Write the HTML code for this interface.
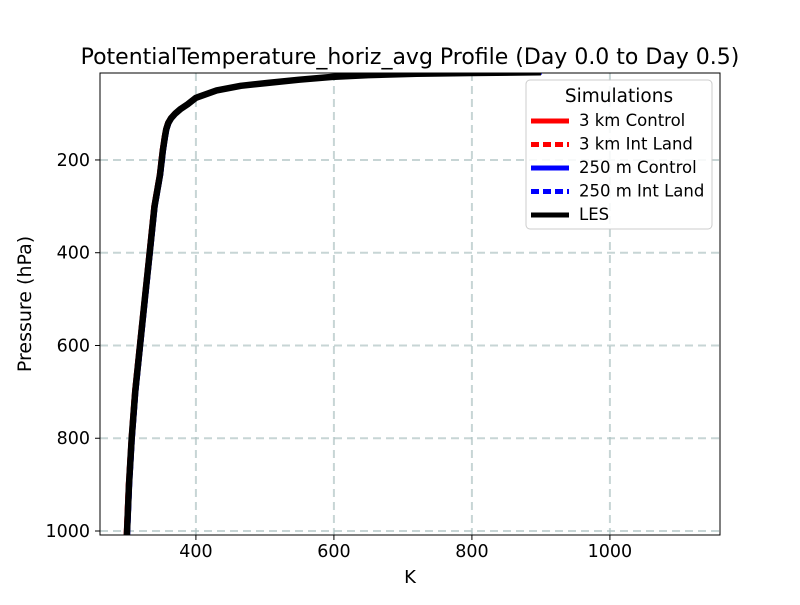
<!DOCTYPE html>
<html><head><meta charset="utf-8"><style>
body{margin:0;background:#fff;font-family:"Liberation Sans","DejaVu Sans",sans-serif}
svg text{font-family:"DejaVu Sans","Liberation Sans",sans-serif}
</style></head><body>
<svg id="c" width="800" height="600" viewBox="0 0 800 600" xmlns="http://www.w3.org/2000/svg">
<rect width="800" height="600" fill="#fff"/>
<defs><clipPath id="clip"><rect x="100" y="73" width="620" height="462"/></clipPath></defs>
<g id="grid"></g>
<g id="series" clip-path="url(#clip)"></g>
<rect x="100" y="73" width="620" height="462" fill="none" stroke="#000" stroke-width="1"/>
<g id="ticks"></g>
<text x="410" y="64" text-anchor="middle" font-size="22">PotentialTemperature_horiz_avg Profile (Day 0.0 to Day 0.5)</text>
<text x="410" y="583" text-anchor="middle" font-size="18">K</text>
<text x="31" y="304" text-anchor="middle" font-size="19" transform="rotate(-90 31 304)">Pressure (hPa)</text>
<g id="legend">
<rect x="526" y="80" width="186" height="149" rx="4" fill="#fff" fill-opacity="0.85" stroke="#ccc"/>
<text x="619" y="102" text-anchor="middle" font-size="18.5">Simulations</text>
</g>
</svg>
<script>
const pressures=[1008,900,800,700,600,500,400,300,232,180,150,134,120,110,100,90,80,66,50,40,34,27,21,17,14,12.5,11];
const lesK=[300,303,307,312,319,326,333,340,348,352,355,357,360,364,370,378,388,400,430,465,503,550,598,650,720,800,900];
const ctl3kmK=lesK.map(v=>v-1);
const land3kmK=lesK.map(v=>v-1);
const ctl250K=lesK.map(v=>v+1);
const land250K=lesK.map(v=>v+1);
const xTicks=[400,600,800,1000];
const yTicks=[200,400,600,800,1000];
const seriesNames=["3 km Control","3 km Int Land","250 m Control","250 m Int Land","LES"];
const NS="http://www.w3.org/2000/svg";
const X=k=>100+(k-261)*0.69;
const Y=p=>73+(p-12.5)*0.4638;
function mk(t,a,parent){const e=document.createElementNS(NS,t);for(const k in a)e.setAttribute(k,a[k]);document.getElementById(parent).appendChild(e);return e;}
xTicks.forEach(v=>{
 const g=mk('line',{x1:X(v),x2:X(v),y1:73,y2:535,stroke:'#b0c4c4','stroke-width':2,'stroke-dasharray':'8,5',opacity:0.7},'grid');
 
 
 const t=mk('line',{x1:X(v),x2:X(v),y1:535,y2:540,stroke:'#000'},'ticks');
 
 
 const l=mk('text',{x:X(v),y:557,'text-anchor':'middle','font-size':17.5},'ticks');l.textContent=v;
 
 
});
yTicks.forEach(v=>{
 const g=mk('line',{x1:100,x2:720,y1:Y(v),y2:Y(v),stroke:'#b0c4c4','stroke-width':2,'stroke-dasharray':'8,5',opacity:0.7},'grid');
 
 
 const t=mk('line',{x1:95,x2:100,y1:Y(v),y2:Y(v),stroke:'#000'},'ticks');
 
 
 const l=mk('text',{x:90,y:Y(v)+6,'text-anchor':'end','font-size':17.5},'ticks');l.textContent=v;
 
 
});
const all=[ctl3kmK,land3kmK,ctl250K,land250K,lesK];
const cols=['#f00','#f00','#00f','#00f','#000'];
const dash=['none','8,4','none','8,4','none'];
const widths=[5,5,5,5,6.5];
all.forEach((arr,i)=>{
 const d=arr.map((k,j)=>(j?'L':'M')+X(k).toFixed(1)+','+Y(pressures[j]).toFixed(1)).join('');
 const p=mk('path',{d:d,fill:'none',stroke:cols[i],'stroke-width':widths[i],'stroke-dasharray':dash[i],'stroke-linejoin':'round'},'series');
 
 
 const y=121+i*23.5;
 const s=mk('line',{x1:531,x2:569,y1:y,y2:y,stroke:cols[i],'stroke-width':5,'stroke-dasharray':dash[i]},'legend');
 
 
 const t=mk('text',{x:579,y:y+5,'font-size':16.5},'legend');t.textContent=seriesNames[i];
 
 
});
</script>
</body></html>
